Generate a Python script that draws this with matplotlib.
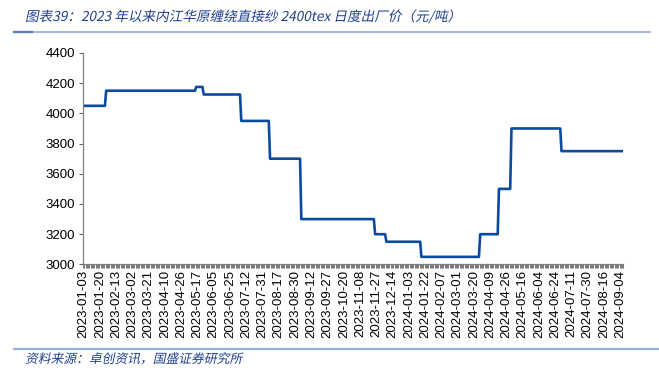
import numpy as np
import matplotlib
matplotlib.use('Agg')
import matplotlib.pyplot as plt
from matplotlib.textpath import TextPath
from matplotlib.font_manager import FontProperties
from matplotlib.patches import PathPatch
from matplotlib.transforms import Affine2D, IdentityTransform

plt.rcParams['font.family'] = ['Liberation Sans', 'Noto Sans CJK SC', 'DejaVu Sans']

# Tick labels (every 13th trading day)
tick_labels = ['2023-01-03', '2023-01-20', '2023-02-13', '2023-03-02', '2023-03-21',
               '2023-04-10', '2023-04-26', '2023-05-17', '2023-06-05', '2023-06-25',
               '2023-07-12', '2023-07-31', '2023-08-17', '2023-08-30', '2023-09-12',
               '2023-09-27', '2023-10-20', '2023-11-08', '2023-11-27', '2023-12-14',
               '2024-01-03', '2024-01-22', '2024-02-07', '2024-03-01', '2024-03-20',
               '2024-04-09', '2024-04-26', '2024-05-16', '2024-06-04', '2024-06-24',
               '2024-07-11', '2024-07-30', '2024-08-16', '2024-09-04']
label_step = 13

# Price levels (yuan/ton) and how many trading days each level lasted
prices = [4050, 4150, 4175, 4125, 3950, 3700, 3300, 3200, 3150, 3050, 3200, 3500, 3900, 3750]
run_days = [18, 72, 6, 30, 23, 25, 59, 9, 28, 47, 15, 10, 40, 50]

y = np.repeat(prices, run_days)
n = len(y)
x = np.arange(n)

title = '图表39：2023 年以来内江华原缠绕直接纱 2400tex 日度出厂价（元/吨）'
source = '资料来源：卓创资讯，国盛证券研究所'
blue_text = '#1F3F8F'

fig = plt.figure(figsize=(6.59, 3.81), dpi=100)
ax = fig.add_axes([0.126, 0.306, 0.820, 0.555])

ax.plot(x, y, color='#0B4A9E', linewidth=1.9, solid_joinstyle='round')

ax.set_xlim(-0.5, n - 0.5)
ax.set_ylim(3000, 4400)
ax.set_yticks(np.arange(3000, 4401, 200))

ax.set_xticks(np.arange(0, len(tick_labels) * label_step, label_step))
ax.set_xticklabels(tick_labels, rotation=90, fontsize=9.5)
ax.set_xticks(np.arange(-0.5, n, 1), minor=True)
ax.tick_params(axis='x', which='major', length=0, pad=4)
ax.tick_params(axis='x', which='minor', length=3, width=0.6, color='#606060', direction='out')
ax.tick_params(axis='y', length=3, width=0.8, color='#606060', labelsize=9.5, pad=3)

for s in ['top', 'right']:
    ax.spines[s].set_visible(False)
for s in ['left', 'bottom']:
    ax.spines[s].set_color('#808080')
    ax.spines[s].set_linewidth(0.9)


def slanted_text(s, x_px, y_px, size):
    # CJK fonts have no italic face, so shear the glyph outlines instead
    tp = TextPath((0, 0), s, size=size, prop=FontProperties(family='Noto Sans CJK SC'))
    tr = Affine2D().skew_deg(12, 0).scale(fig.dpi / 72).translate(x_px, y_px)
    patch = PathPatch(tp, facecolor=blue_text, edgecolor='none', transform=tr + IdentityTransform())
    fig.add_artist(patch)


# Title and source
slanted_text(title, 25, 360, 9.8)
fig.add_artist(plt.Line2D([0.021, 0.986], [0.916, 0.916], color='#A8BCDD', linewidth=1.6))
fig.add_artist(plt.Line2D([0.021, 0.048], [0.916, 0.916], color='#5D7EBF', linewidth=1.6))

fig.add_artist(plt.Line2D([0.021, 1.0], [0.083, 0.083], color='#9AB2D8', linewidth=1.6))
slanted_text(source, 25, 18, 9.2)

fig.savefig('out.png', dpi=100)
